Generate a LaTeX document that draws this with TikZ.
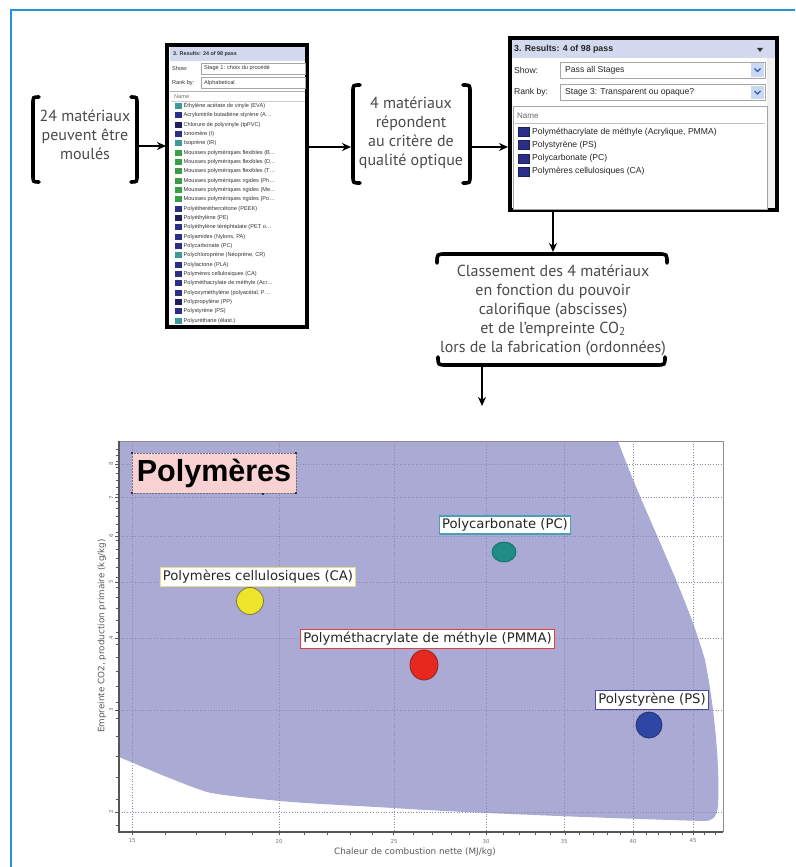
\documentclass[tikz,border=0pt]{standalone}
\usepackage{fontspec}
\setmainfont{PT Sans}
\newfontfamily\uifont{Liberation Sans}
\newfontfamily\chartfont{DejaVu Sans}
\usetikzlibrary{arrows.meta}

\definecolor{framebl}{HTML}{2196D3}
\definecolor{textgray}{HTML}{4A4A4A}
\definecolor{hdrband}{HTML}{D3D9EE}
\definecolor{icnavy}{HTML}{2B2F86}
\definecolor{icdark}{HTML}{1E205C}
\definecolor{icteal}{HTML}{3C9A98}
\definecolor{icgreen}{HTML}{3AA048}
\definecolor{envfill}{HTML}{AAAAD5}
\definecolor{gridc}{HTML}{8C8AA6}
\definecolor{axisc}{HTML}{555555}
\definecolor{ticklab}{HTML}{777777}
\definecolor{pinkbox}{HTML}{F8D2D2}
\definecolor{caYellow}{HTML}{EDE52C}
\definecolor{caEdge}{HTML}{7E7840}
\definecolor{caBorder}{HTML}{E4DE86}
\definecolor{pcTeal}{HTML}{1E8C84}
\definecolor{pcBorder}{HTML}{4A9EB6}
\definecolor{pmRed}{HTML}{E6281F}
\definecolor{pmEdge}{HTML}{8E2420}
\definecolor{pmBorder}{HTML}{E0403C}
\definecolor{psBlue}{HTML}{2E46A4}
\definecolor{psEdge}{HTML}{24306C}
\definecolor{psBorder}{HTML}{4A4AA6}
\definecolor{btnblue}{HTML}{C9D9F1}
\definecolor{chevblue}{HTML}{2A5CB0}

\begin{document}
\begin{tikzpicture}[x=1pt,y=-1pt,
  arr/.style={line width=2.3pt,-{Stealth[length=9pt,width=8pt]}},
  brk/.style={line width=3.6pt,line cap=round},
  txt/.style={align=center,font=\fontsize{16}{19}\selectfont,text=textgray,inner sep=0pt},
  shot/.style={draw=black,fill=white,line width=3.6pt,outer sep=0pt,inner sep=0pt},
  uismall/.style={font=\uifont\fontsize{5.6}{6}\selectfont,text=black!80,inner sep=0pt,anchor=west},
  uibig/.style={font=\uifont\fontsize{8.6}{9}\selectfont,text=black!85,inner sep=0pt,anchor=west},
  field/.style={draw=black!35,fill=white,line width=0.6pt},
  gridline/.style={gridc,dotted,line width=0.7pt},
  tick/.style={axisc,line width=0.6pt},
  ticktext/.style={font=\chartfont\fontsize{5.5}{6}\selectfont,text=ticklab,inner sep=0pt},
  axlabel/.style={font=\chartfont\fontsize{8.8}{9}\selectfont,text=black!65,inner sep=0pt},
  chartlab/.style={draw,fill=white,line width=1.1pt,font=\chartfont\fontsize{13.2}{15}\selectfont,inner xsep=2.5pt,inner ysep=2.6pt,text=black!85},
  marker/.style={line width=0.8pt}]

\useasboundingbox (0,0) rectangle (795,867);

% page frame
\draw[framebl,line width=1.4pt] (11,867) -- (11,10) -- (795,10);

% ---------------- first group: 24 materials ----------------
\node[txt] (txtA) at (85,135) {24 matériaux\\peuvent être\\moulés};
\draw[brk] (39,97) .. controls (33,97) .. (33,104) -- (33,175) .. controls (33,182) .. (39,182);
\draw[brk] (131,97) .. controls (137,97) .. (137,104) -- (137,175) .. controls (137,182) .. (131,182);

% ---------------- left screenshot (24 of 98) ----------------
\node[shot,minimum width=140pt,minimum height=282pt] (shotA) at (237,186) {};
\fill[hdrband] (169.5,47) rectangle (305,61);
\node[uismall,font=\uifont\bfseries\fontsize{5.4}{6}\selectfont] (hdrA) at (173,54) {3. Results: 24 of 98 pass};
\node[uismall] (showA) at (172,68) {Show:};
\draw[field] (201,63) rectangle (305,74);
\node[uismall] (showvA) at (204,68.5) {Stage 1: choix du procédé};
\node[uismall] (rankA) at (172,83) {Rank by:};
\draw[field] (201,77.5) rectangle (305,88.5);
\node[uismall] (rankvA) at (204,83) {Alphabetical};
\draw[draw=black!30,line width=0.6pt] (170,91) -- (305,91);
\node[uismall,text=black!55] (nameA) at (174,97) {Name};
\draw[black!20,line width=0.5pt] (171,101.5) -- (305,101.5);
\begin{scope}
\clip (169.5,102) rectangle (305,325);
\foreach \c/\t [count=\i from 0] in {
  icteal/{Éthylène acétate de vinyle (EVA)},
  icnavy/{Acrylonitrile butadiène styrène (A…},
  icdark/{Chlorure de polyvinyle (tpPVC)},
  icnavy/{Ionomère (I)},
  icteal/{Isoprène (IR)},
  icgreen/{Mousses polymériques flexibles (B…},
  icgreen/{Mousses polymériques flexibles (D…},
  icgreen/{Mousses polymériques flexibles (T…},
  icgreen/{Mousses polymériques rigides (Ph…},
  icgreen/{Mousses polymériques rigides (Me…},
  icgreen/{Mousses polymériques rigides (Po…},
  icnavy/{Polyétheréthercétone (PEEK)},
  icdark/{Polyéthylène (PE)},
  icnavy/{Polyéthylène téréphtalate (PET o…},
  icnavy/{Polyamides (Nylons, PA)},
  icnavy/{Polycarbonate (PC)},
  icteal/{Polychloroprène (Néoprène, CR)},
  icnavy/{Polylactone (PLA)},
  icnavy/{Polymères cellulosiques (CA)},
  icnavy/{Polyméthacrylate de méthyle (Acr…},
  icnavy/{Polyoxyméthylène (polyacétal, P…},
  icdark/{Polypropylène (PP)},
  icnavy/{Polystyrène (PS)},
  icteal/{Polyuréthane (élast.)}} {
  \pgfmathsetmacro\yy{106+9.33*\i}
  \fill[\c] (175,\yy-3) rectangle (181.5,\yy+3);
  \node[uismall] at (183.5,\yy) {\t};
}
\end{scope}

% ---------------- second group: 4 materials ----------------
\node[txt] (txtB) at (411,133) {4 matériaux\\répondent\\au critère de\\qualité optique};
\draw[brk] (360,85) .. controls (353,85) .. (353,92) -- (353,176) .. controls (353,183) .. (360,183);
\draw[brk] (463,85) .. controls (470,85) .. (470,92) -- (470,176) .. controls (470,183) .. (463,183);

% ---------------- right screenshot (4 of 98) ----------------
\node[shot,minimum width=267pt,minimum height=172pt] (shotB) at (643.5,124) {};
\fill[hdrband] (512,40) rectangle (775,58);
\node[uibig,font=\uifont\bfseries\fontsize{8.8}{9}\selectfont] (hdrB) at (514,49.5) {3. Results: 4 of 98 pass};
\fill[black!80] (757,48) -- (763,48) -- (760,52) -- cycle;
\fill[black!6] (767,58) rectangle (775,208);
\node[uibig] (showB) at (514,70) {Show:};
\draw[field] (560,62) rectangle (765,78);
\node[uibig] (showvB) at (565,70) {Pass all Stages};
\fill[btnblue] (751,63.5) rectangle (764,76.5);
\draw[chevblue,line width=1.3pt] (754.5,68.5) -- (757.5,71.5) -- (760.5,68.5);
\node[uibig] (rankB) at (514,92.5) {Rank by:};
\draw[field] (560,84.5) rectangle (765,100.5);
\node[uibig] (rankvB) at (565,92.5) {Stage 3: Transparent ou opaque?};
\fill[btnblue] (751,86) rectangle (764,99);
\draw[chevblue,line width=1.3pt] (754.5,91) -- (757.5,94) -- (760.5,91);
\draw[field] (513.5,106) rectangle (767,209);
\node[uibig,text=black!60,font=\uifont\fontsize{8}{9}\selectfont] (nameB) at (517,116) {Name};
\draw[black!25,line width=0.5pt] (515,123.5) -- (765,123.5);
\foreach \t [count=\i from 0] in {
  {Polyméthacrylate de méthyle (Acrylique, PMMA)},
  {Polystyrène (PS)},
  {Polycarbonate (PC)},
  {Polymères cellulosiques (CA)}} {
  \pgfmathsetmacro\yy{132+13.2*\i}
  \fill[icnavy,draw=icdark,line width=0.5pt] (518.5,\yy-4.5) rectangle (529,\yy+4.5);
  \node[uibig] at (532,\yy) {\t};
}

% ---------------- third group: ranking ----------------
\node[txt] (txtC) at (553,310) {Classement des 4 matériaux\\en fonction du pouvoir\\calorifique (abscisses)\\et de l’empreinte CO\textsubscript{2}\\lors de la fabrication (ordonnées)};
\draw[brk] (437,263) .. controls (437,254) .. (446,254) -- (658,254) .. controls (667,254) .. (667,263);
\draw[brk] (438,357) .. controls (438,365) .. (447,365) -- (656,365) .. controls (665,365) .. (665,357);

% ---------------- connectors ----------------
\coordinate (a1s) at (137,146);  \coordinate (a1e) at (166,146);
\coordinate (a2s) at (309,147);  \coordinate (a2e) at (351,147);
\coordinate (a3s) at (470,147);  \coordinate (a3e) at (508,147);
\coordinate (a4s) at (553,212);  \coordinate (a4e) at (553,252);
\coordinate (a5s) at (482,365);  \coordinate (a5e) at (482,406);
\draw[arr] (a1s) -- (a1e);
\draw[arr] (a2s) -- (a2e);
\draw[arr] (a3s) -- (a3e);
\draw[arr] (a4s) -- (a4e);
\draw[arr] (a5s) -- (a5e);

% ---------------- chart ----------------
\fill[white] (119,441) rectangle (723,832);
\begin{scope}
\clip (119,441) rectangle (723,832);
\fill[envfill] (100,430) -- (614,430) -- (618,441)
  .. controls (645,515) and (685,590) .. (705,660)
  .. controls (715,710) and (720,770) .. (718,805)
  .. controls (717,818) and (712,821) .. (704,821)
  .. controls (600,818) and (450,812) .. (394,808)
  .. controls (340,805) and (300,803) .. (280,801)
  .. controls (240,797) and (220,795) .. (207,792)
  .. controls (185,785) and (150,770) .. (119,757)
  -- (100,757) -- cycle;
\end{scope}
% grid
\foreach \xx in {132,279,394,486,564,633,693} \draw[gridline] (\xx,441) -- (\xx,832);
\foreach \yy in {464,497.6,536.2,582,638,710.2,812} \draw[gridline] (119,\yy) -- (723,\yy);
% frame and axes
\draw[black!45,line width=0.8pt] (119,441) -- (723,441) -- (723,832);
\draw[axisc,line width=1.3pt] (119,441) -- (119,832) -- (723,832);
% ticks on x axis
\foreach \v in {15,...,47} {
  \pgfmathsetmacro\xx{132+511*ln(\v/15)}
  \draw[tick] (\xx,832) -- (\xx,835);
}
\foreach \v/\xx in {15/132,20/279,25/394,30/486,35/564,40/633,45/693}
  \node[ticktext] at (\xx,841) {\v};
% ticks on y axis
\foreach \v in {1.9,2.1,...,8.7} {
  \pgfmathsetmacro\yy{812-251*ln(\v/2)}
  \draw[tick] (116,\yy) -- (119,\yy);
}
\foreach \v/\yy in {2/812,3/710.2,4/638,5/582,6/536.2,7/497.6,8/464} {
  \draw[tick] (115,\yy) -- (119,\yy);
  \node[ticktext,rotate=90] at (111,\yy) {\v};
}
\node[axlabel] (xlab) at (415,852) {Chaleur de combustion nette (MJ/kg)};
\node[axlabel,rotate=90] (ylab) at (102,636) {Empreinte CO2, production primaire (kg/kg)};

% title box
\node[fill=pinkbox,draw=black!55,densely dotted,line width=0.5pt,minimum width=164pt,minimum height=40pt,inner sep=0pt,
      font=\uifont\bfseries\fontsize{30.5}{32}\selectfont] (title) at (214,473) {Polymères};
\foreach \p in {(132,453),(296,453),(132,493),(296,493),(263,494)}
  \fill[black!80] \p ++(-1.3,-1.3) rectangle ++(2.6,2.6);

% data points
\fill[caYellow,draw=caEdge,marker] (250,601) circle (13.5);
\fill[pcTeal,draw=pcTeal!80!black,marker] (504,552) ellipse (12 and 10);
\fill[pmRed,draw=pmEdge,marker] (424,665) ellipse (14 and 15);
\fill[psBlue,draw=psEdge,marker] (649,725) circle (13);

% point labels
\node[chartlab,draw=caBorder] (labCA) at (258,577) {Polymères cellulosiques (CA)};
\node[chartlab,draw=pcBorder] (labPC) at (505,525) {Polycarbonate (PC)};
\node[chartlab,draw=pmBorder] (labPM) at (427.5,639) {Polyméthacrylate de méthyle (PMMA)};
\node[chartlab,draw=psBorder] (labPS) at (652,700) {Polystyrène (PS)};

\end{tikzpicture}
\end{document}
